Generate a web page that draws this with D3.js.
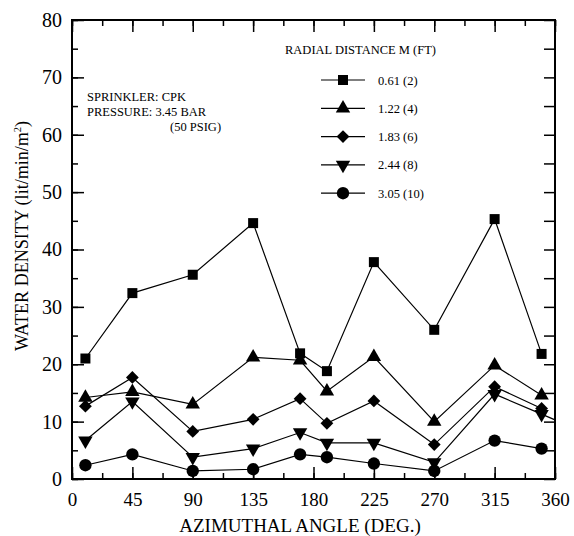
<!DOCTYPE html>
<html>
<head>
<meta charset="utf-8">
<script src="https://cdn.jsdelivr.net/npm/d3@7"></script>
<style>
  body { margin: 0; background: #fff; }
  svg text { font-family: "Liberation Serif", "DejaVu Serif", serif; fill: #000; }
</style>
</head>
<body>
<div class="chart"></div>
<script>
// data
var angles = [10, 45, 90, 135, 170, 190, 225, 270, 315, 350];
var d061 = [21.0, 32.4, 35.6, 44.6, 21.9, 18.8, 37.8, 26.0, 45.3, 21.8];
var d122 = [14.2, 15.2, 13.0, 21.2, 20.7, 15.3, 21.3, 10.0, 19.8, 14.6];
var d183 = [12.7, 17.7, 8.3, 10.4, 14.0, 9.7, 13.6, 6.0, 16.1, 12.3];
var d244 = [6.7, 13.5, 3.8, 5.3, 8.1, 6.3, 6.3, 2.9, 14.8, 11.3];
var d305 = [2.4, 4.3, 1.4, 1.7, 4.3, 3.8, 2.7, 1.4, 6.7, 5.3];
var seriesNames = ["0.61 (2)", "1.22 (4)", "1.83 (6)", "2.44 (8)", "3.05 (10)"];
var xTicks = [0, 45, 90, 135, 180, 225, 270, 315, 360];
var yTicks = [0, 10, 20, 30, 40, 50, 60, 70, 80];
// the 2.44 line runs on to the right axis
var tail244 = [350, 11.3, 360, 10.3];

var w = 574, h = 536;
var m = {left: 72, right: 19, top: 20, bottom: 57};

var svg = d3.select(".chart").append("svg").attr("width", w).attr("height", h);

var x = d3.scaleLinear().domain([0, 360]).range([m.left, w - m.right]);
var y = d3.scaleLinear().domain([0, 80]).range([h - m.bottom, m.top]);

// ticks, all inward
var minorX = d3.range(0, 361, 22.5), minorY = d3.range(0, 81, 5);
svg.append("g").attr("transform", "translate(0," + y(0) + ")")
  .call(d3.axisBottom(x).tickValues(minorX).tickSize(-6).tickFormat(""));
svg.append("g").attr("transform", "translate(0," + y(0) + ")")
  .call(d3.axisBottom(x).tickValues(xTicks).tickSize(-12).tickPadding(14).tickFormat(d3.format("d")))
  .call(g => g.selectAll("text").style("font-size", "19px"));
svg.append("g").attr("transform", "translate(0," + y(80) + ")")
  .call(d3.axisTop(x).tickValues(minorX).tickSize(-6).tickFormat(""));
svg.append("g").attr("transform", "translate(0," + y(80) + ")")
  .call(d3.axisTop(x).tickValues(xTicks).tickSize(-12).tickFormat(""));
svg.append("g").attr("transform", "translate(" + x(0) + ",0)")
  .call(d3.axisLeft(y).tickValues(minorY).tickSize(-6).tickFormat(""));
svg.append("g").attr("transform", "translate(" + x(0) + ",0)")
  .call(d3.axisLeft(y).tickValues(yTicks).tickSize(-12).tickPadding(10).tickFormat(d3.format("d")))
  .call(g => g.selectAll("text").style("font-size", "20px"));
svg.append("g").attr("transform", "translate(" + x(360) + ",0)")
  .call(d3.axisRight(y).tickValues(minorY).tickSize(-11).tickFormat(""));
svg.selectAll(".domain").remove();
svg.selectAll(".tick line").attr("stroke", "#000").attr("stroke-width", 1.5);

svg.append("rect")
  .attr("x", x(0)).attr("y", y(80))
  .attr("width", x(360) - x(0)).attr("height", y(0) - y(80))
  .attr("fill", "none").attr("stroke", "#000").attr("stroke-width", 2);

// series
var symbols = [
  d3.symbol().type(d3.symbolSquare).size(100)(),
  d3.symbol().type(d3.symbolTriangle).size(90)(),
  d3.symbol().type(d3.symbolSquare).size(82)(),
  d3.symbol().type(d3.symbolTriangle).size(90)(),
  d3.symbol().type(d3.symbolCircle).size(120)()
];
var rot = [0, 0, 45, 180, 0];
var all = [d061, d122, d183, d244, d305];
var line = d3.line().x(d => x(d[0])).y(d => y(d[1]));

all.forEach(function(vals, s) {
  var pts = angles.map((a, i) => [a, vals[i]]);
  svg.append("path").datum(pts).attr("d", line)
    .attr("fill", "none").attr("stroke", "#000").attr("stroke-width", 1.2);
  svg.selectAll(".m" + s).data(pts).enter().append("path")
    .attr("class", "m" + s)
    .attr("d", symbols[s])
    .attr("transform", d => "translate(" + x(d[0]) + "," + y(d[1]) + ") rotate(" + rot[s] + ")")
    .attr("fill", "#000");
});
svg.append("path").datum([[tail244[0], tail244[1]], [tail244[2], tail244[3]]]).attr("d", line)
  .attr("fill", "none").attr("stroke", "#000").attr("stroke-width", 1.2);

// legend
svg.append("text").attr("x", 285).attr("y", 54).style("font-size", "12.5px")
  .text("RADIAL DISTANCE M (FT)");
seriesNames.forEach(function(name, s) {
  var ly = 80 + s * 28.3;
  svg.append("line").attr("x1", 321).attr("x2", 365).attr("y1", ly).attr("y2", ly)
    .attr("stroke", "#000").attr("stroke-width", 1.2);
  svg.append("path").attr("d", symbols[s])
    .attr("transform", "translate(343," + ly + ") rotate(" + rot[s] + ")")
    .attr("fill", "#000");
  svg.append("text").attr("x", 378).attr("y", ly + 4.5).style("font-size", "12.5px").text(name);
});

// annotation
svg.append("text").attr("x", 87).attr("y", 101).style("font-size", "12.5px").text("SPRINKLER: CPK");
svg.append("text").attr("x", 87).attr("y", 116).style("font-size", "12.5px").text("PRESSURE: 3.45 BAR");
svg.append("text").attr("x", 170).attr("y", 131).style("font-size", "12.5px").text("(50 PSIG)");

// axis titles
svg.append("text").attr("x", 300).attr("y", 532)
  .attr("text-anchor", "middle").style("font-size", "19px")
  .text("AZIMUTHAL ANGLE (DEG.)");
var yt = svg.append("text").attr("transform", "translate(28,236) rotate(-90) scale(0.95,1)")
  .attr("text-anchor", "middle").style("font-size", "19px");
yt.append("tspan").text("WATER DENSITY (lit/min/m");
yt.append("tspan").attr("dy", -7).style("font-size", "11px").text("2");
yt.append("tspan").attr("dy", 7).text(")");
</script>
</body>
</html>
